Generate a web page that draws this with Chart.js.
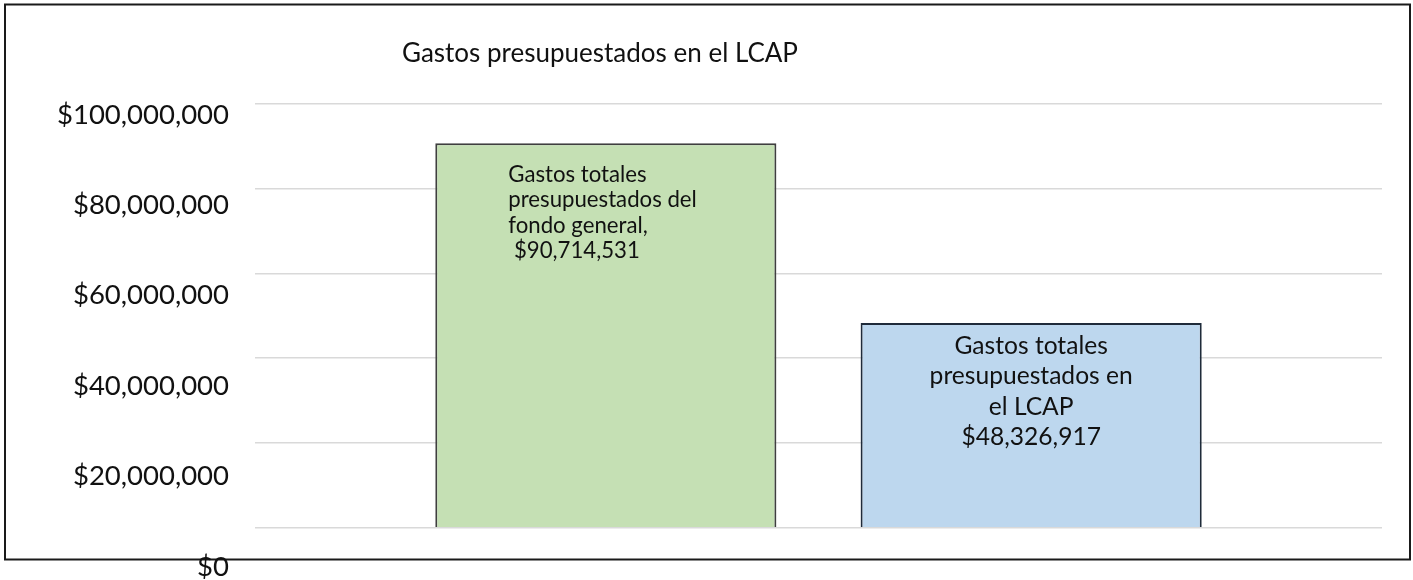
<!DOCTYPE html>
<html>
<head>
<meta charset="utf-8">
<script src="https://cdn.jsdelivr.net/npm/chart.js@4/dist/chart.umd.min.js"></script>
<style>
  html, body { margin: 0; padding: 0; background: #fff; }
  #wrap { position: relative; width: 1413px; height: 580px; }
</style>
</head>
<body>
<div id="wrap"><canvas id="chart" width="1413" height="580"></canvas></div>
<script>
// LCAP budget bar chart: one category, two series side by side.

const TITLE = "Gastos presupuestados en el LCAP";
const SERIES = [
  "Gastos totales presupuestados del fondo general",
  "Gastos totales presupuestados en el LCAP",
];
const VALUES = [90714531, 48326917];
// label text as wrapped in the original data labels
const LABEL_LINES = [
  ["Gastos totales", "presupuestados del", "fondo general,"],
  ["Gastos totales", "presupuestados en", "el LCAP"],
];
const TICKS = [0, 20000000, 40000000, 60000000, 80000000, 100000000];

const FILLS = ["#c5e0b4", "#bdd7ee"];
const EDGES = ["#3f3f3f", "#1f2b3a"];
const FONT = "Lato, 'Open Sans', sans-serif";
// per-series label placement relative to the bar's top-left / centre
const LABEL_STYLE = [
  { align: "left",   dx: 73, dy: 31, size: 22.2, lh: 25.5, prefix: " " },
  { align: "center", dx: 0,  dy: 23, size: 24.6, lh: 30.5, prefix: "" },
];

const fmtMoney = (v) => "$" + Number(v).toLocaleString("en-US");

const framePlugin = {
  id: "frame",
  beforeDraw(chart) {
    const ctx = chart.ctx;
    ctx.save();
    ctx.fillStyle = "#fff";
    ctx.fillRect(0, 0, chart.width, chart.height);
    ctx.strokeStyle = "#1a1a1a";
    ctx.lineWidth = 2;
    ctx.strokeRect(5, 4.5, 1405, 555);
    ctx.fillStyle = "#111";
    ctx.font = `26px ${FONT}`;
    ctx.textBaseline = "middle";
    ctx.textAlign = "left";
    ctx.fillText(TITLE, 402, 54);
    ctx.restore();
  },
};

const barLabelPlugin = {
  id: "barLabels",
  afterDatasetsDraw(chart) {
    const ctx = chart.ctx;
    ctx.save();
    ctx.fillStyle = "#111";
    ctx.textBaseline = "middle";
    chart.data.datasets.forEach((ds, i) => {
      const bar = chart.getDatasetMeta(i).data[0];
      const st = LABEL_STYLE[i];
      const lines = [...LABEL_LINES[i], st.prefix + fmtMoney(VALUES[i])];
      const left = bar.x - bar.width / 2;
      ctx.font = `${st.size}px ${FONT}`;
      ctx.textAlign = st.align;
      const x = st.align === "left" ? left + st.dx : bar.x + st.dx;
      lines.forEach((t, k) => ctx.fillText(t, x, bar.y + st.dy + k * st.lh));
    });
    ctx.restore();
  },
};

const setTicks = (scale) => { scale.ticks = TICKS.map(v => ({ value: v })); };

new Chart(document.getElementById("chart"), {
  type: "bar",
  data: {
    labels: [""],
    datasets: SERIES.map((s, i) => ({
      label: s,
      data: [VALUES[i]],
      backgroundColor: FILLS[i],
      borderColor: EDGES[i],
      borderWidth: 2,
      categoryPercentage: 0.7548,
      barPercentage: 0.802,
      yAxisID: "y",
    })),
  },
  options: {
    responsive: false,
    animation: false,
    devicePixelRatio: 1,
    layout: { padding: { top: 104, bottom: 12, left: 0, right: 0 } },
    plugins: {
      legend: { display: false },
      tooltip: { enabled: false },
      title: { display: false },
    },
    scales: {
      x: { display: false, offset: true },
      // gridline axis: 0 sits at the bars' base
      y: {
        position: "right",
        min: -9520000,
        max: 100000000,
        afterBuildTicks: setTicks,
        afterFit: (s) => { s.width = 31; s.paddingTop = 0; s.paddingBottom = 0; },
        ticks: { display: false },
        grid: { color: "#d9d9d9", lineWidth: 1.5, drawTicks: false },
        border: { display: false },
      },
      // label axis: the text is spaced a bit wider than the gridlines
      yl: {
        position: "left",
        min: -290000,
        max: 102370000,
        afterBuildTicks: setTicks,
        afterFit: (s) => { s.width = 255; s.paddingTop = 0; s.paddingBottom = 0; },
        ticks: {
          color: "#111",
          padding: 26,
          font: { family: FONT, size: 27.5, lineHeight: 1 },
          callback: (v) => fmtMoney(v),
        },
        grid: { display: false, drawTicks: false },
        border: { display: false },
      },
    },
  },
  plugins: [framePlugin, barLabelPlugin],
});
</script>
</body>
</html>
